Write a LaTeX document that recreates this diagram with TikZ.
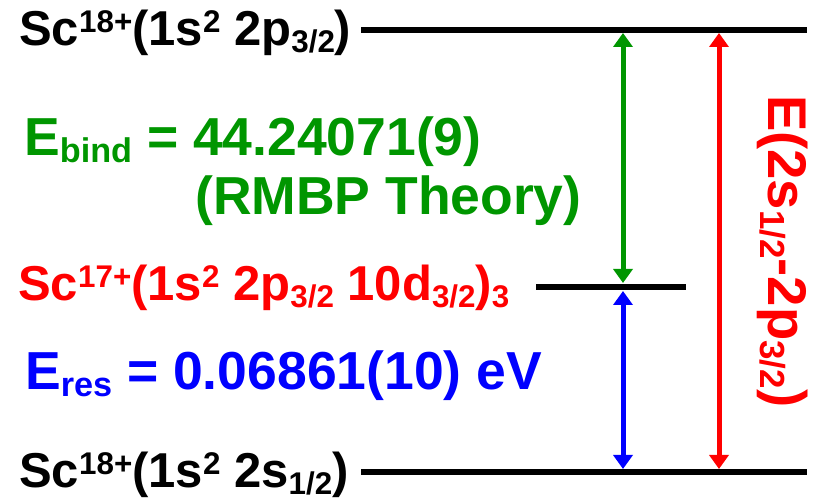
\documentclass[tikz,border=0pt]{standalone}
\usepackage{fontspec}
\setmainfont{Liberation Sans}
\usetikzlibrary{arrows.meta}
\definecolor{dgreen}{RGB}{0,150,0}
\newcommand{\up}[1]{\raisebox{0.28em}{\scalebox{0.64}{#1}}}
\newcommand{\dn}[1]{\raisebox{-0.13em}{\scalebox{0.64}{#1}}}
\tikzset{
  level/.style={line width=6pt, black},
  lbl/.style={anchor=base west, inner sep=0pt, font=\bfseries\fontsize{49}{55}\selectfont},
  big/.style={anchor=base west, inner sep=0pt, font=\bfseries\fontsize{53.5}{60}\selectfont},
  darr/.style={line width=5pt, {Triangle[width=19pt,length=14pt]}-{Triangle[width=19pt,length=14pt]}}
}
\begin{document}
\begin{tikzpicture}[x=1pt,y=-1pt]
\useasboundingbox (0,0) rectangle (817,502);
% levels
\coordinate (t1) at (361,30);  \coordinate (t2) at (807,30);
\coordinate (m1) at (536,287); \coordinate (m2) at (686,287);
\coordinate (b1) at (361,472); \coordinate (b2) at (807,472);
\draw[level] (t1) -- (t2);
\draw[level] (m1) -- (m2);
\draw[level] (b1) -- (b2);
% arrows
\coordinate (gA) at (623,33);  \coordinate (gB) at (623,283);
\coordinate (bA) at (623,291); \coordinate (bB) at (623,469);
\coordinate (rA) at (719,33);  \coordinate (rB) at (719,469);
\draw[darr, dgreen] (gA) -- (gB);
\draw[darr, blue] (bA) -- (bB);
\draw[darr, red] (rA) -- (rB);
% labels
\node[lbl] (top) at (19,46) {Sc\up{18+}(1s\up{2} 2p\dn{3/2})};
\node[big, text=dgreen] (bind) at (24,156) {E\dn{bind} = 44.24071(9)};
\node[big, text=dgreen] (rmbp) at (195,215) {(RMBP Theory)};
\node[lbl, text=red] (mid) at (18,301) {Sc\up{17+}(1s\up{2} 2p\dn{3/2} 10d\dn{3/2})\dn{3}};
\node[big, text=blue] (res) at (25,390) {E\dn{res} = 0.06861(10) eV};
\node[lbl] (bot) at (19,488) {Sc\up{18+}(1s\up{2} 2s\dn{1/2})};
\node[font=\bfseries\fontsize{54.5}{60}\selectfont, anchor=base west, inner sep=0pt, text=red, rotate=-90] (etr) at (768,95) {E(2s\dn{1/2}-2p\dn{3/2})};
\end{tikzpicture}
\end{document}
